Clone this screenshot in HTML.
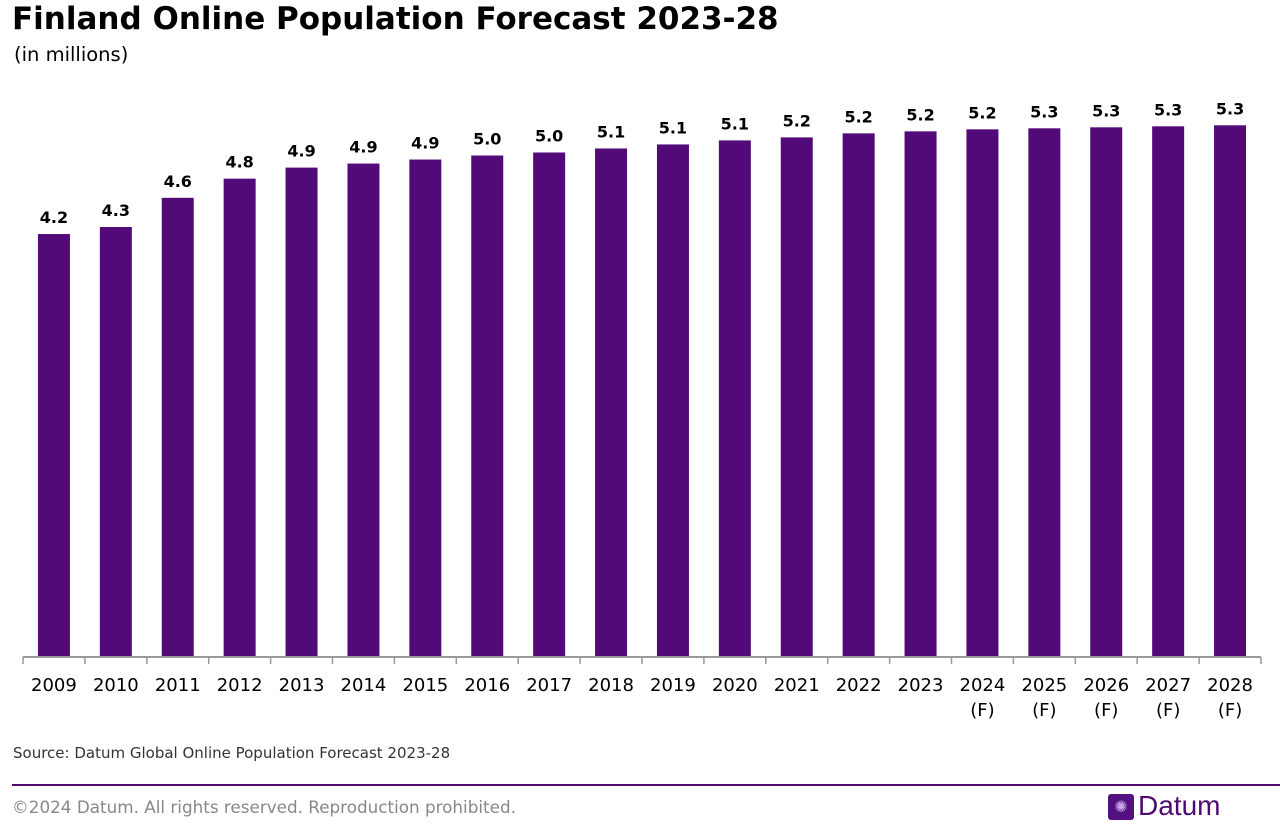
<!DOCTYPE html>
<html><head><meta charset="utf-8"><style>
body{margin:0;width:1280px;height:838px;background:#fff;font-family:"DejaVu Sans","Liberation Sans",sans-serif;overflow:hidden;position:relative}
.t{position:absolute;white-space:nowrap}
</style></head><body>
<div class="t" style="left:12px;top:1px;font-size:31px;font-weight:bold;color:#000">Finland Online Population Forecast 2023-28</div>
<div class="t" style="left:14px;top:43px;font-size:19.5px;color:#000">(in millions)</div>
<svg id="chart" width="1280" height="740" style="position:absolute;left:0;top:0"></svg>
<div class="t" style="left:13px;top:744px;font-size:15px;color:#333">Source: Datum Global Online Population Forecast 2023-28</div>
<div style="position:absolute;left:12px;top:784px;width:1268px;height:2px;background:#4f0a6e"></div>
<div class="t" style="left:12px;top:797px;font-size:16.8px;color:#888">©2024 Datum. All rights reserved. Reproduction prohibited.</div>
<div style="position:absolute;left:1108px;top:794px;width:26px;height:26px;background:#531080;border-radius:3px;color:#c9a6e6;font-size:16px;text-align:center;line-height:26px">✺</div>
<div class="t" style="left:1138px;top:790px;font-size:28px;color:#4f0a6e;font-family:'Liberation Sans',sans-serif">Datum</div>
<script>
const categories=["2009","2010","2011","2012","2013","2014","2015","2016","2017","2018","2019","2020","2021","2022","2023","2024","2025","2026","2027","2028"];
const forecast=[false,false,false,false,false,false,false,false,false,false,false,false,false,false,false,true,true,true,true,true];
const values=[4.2,4.27,4.56,4.75,4.86,4.9,4.94,4.98,5.01,5.05,5.09,5.13,5.16,5.2,5.22,5.24,5.25,5.26,5.27,5.28];
const labels=["4.2","4.3","4.6","4.8","4.9","4.9","4.9","5.0","5.0","5.1","5.1","5.1","5.2","5.2","5.2","5.2","5.3","5.3","5.3","5.3"];
const svg=document.getElementById('chart');
const NS='http://www.w3.org/2000/svg';
const x0=23,x1=1261,base=657,pxPerUnit=100.7,bw=32;
const step=(x1-x0)/categories.length;
const xc=i=>x0+step*(i+0.5);
const y=v=>base-v*pxPerUnit;
const FF='DejaVu Sans, Liberation Sans, sans-serif';
function mk(tag,attrs){const e=document.createElementNS(NS,tag);for(const k in attrs)e.setAttribute(k,attrs[k]);svg.appendChild(e);return e;}
values.forEach((v,i)=>{
  const r=mk('rect',{x:xc(i)-bw/2,y:y(v),width:bw,height:base-y(v),fill:'#520a79'});
  
  
  const t=mk('text',{x:xc(i),y:y(v)-11,'text-anchor':'middle','font-size':16,'font-weight':'bold',fill:'#000','font-family':FF});
  t.textContent=labels[i];
  
  
  const c=mk('text',{x:xc(i),y:691,'text-anchor':'middle','font-size':18,fill:'#000','font-family':FF});
  c.textContent=categories[i];
  
  
  if(forecast[i]){
    const f=mk('text',{x:xc(i),y:716,'text-anchor':'middle','font-size':18,fill:'#000','font-family':FF});
    f.textContent='(F)';
    
    
  }
});
const ax=mk('line',{x1:x0,y1:base,x2:x1,y2:base,stroke:'#999','stroke-width':2});


for(let i=0;i<=categories.length;i++){
  const tk=mk('line',{x1:x0+step*i,y1:base,x2:x0+step*i,y2:base+7,stroke:'#999','stroke-width':1.5});
  
  
}
</script>
</body></html>
